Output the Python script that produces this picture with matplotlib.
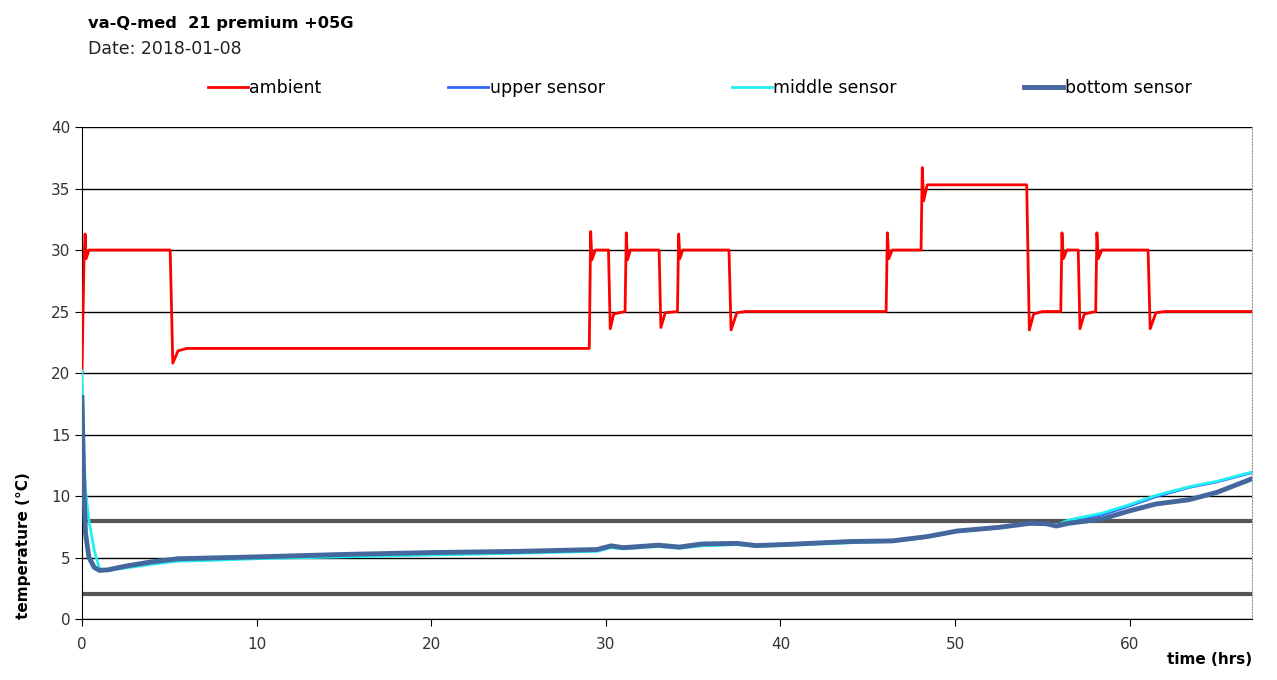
import matplotlib
matplotlib.use("Agg")
import matplotlib.pyplot as plt

# ambient temperature (breakpoints)
amb_t = [0, 0.12, 0.18, 0.24, 0.4, 5.05, 5.2, 5.5, 6, 29.05, 29.13, 29.2, 29.4,
         30.15, 30.25, 30.45, 31.1, 31.17, 31.24, 31.4, 33.05, 33.15, 33.4, 34.1,
         34.17, 34.24, 34.4, 37.05, 37.17, 37.5, 38, 46.05, 46.12, 46.2, 46.4,
         48.05, 48.12, 48.2, 48.4, 54.1, 54.25, 54.5, 55, 56.05, 56.12, 56.2, 56.4,
         57.05, 57.15, 57.4, 58.05, 58.12, 58.2, 58.4, 61.05, 61.17, 61.5, 62, 67]
amb_v = [20, 29.5, 31.3, 29.3, 30, 30, 20.8, 21.8, 22, 22, 31.5, 29.2, 30,
         30, 23.6, 24.8, 25, 31.4, 29.2, 30, 30, 23.7, 24.9, 25,
         31.3, 29.3, 30, 30, 23.5, 24.9, 25, 25, 31.4, 29.3, 30,
         30, 36.7, 34.0, 35.3, 35.3, 23.5, 24.8, 25, 25, 31.4, 29.3, 30,
         30, 23.6, 24.8, 25, 31.4, 29.3, 30, 30, 23.6, 24.9, 25, 25]

sens_t = [0, 0.1, 0.2, 0.4, 0.7, 1.0, 1.5, 2.5, 4, 5.5, 7, 10, 15, 20, 25, 28,
          29.5, 30.3, 31, 33, 34.2, 35.5, 37.5, 38.6, 40.5, 44, 46.4, 48.4, 50.1,
          52.5, 54.3, 55.2, 55.8, 56.5, 58.4, 60, 61.5, 63.4, 65, 67]
upper_v = [18.5, 11.5, 7.2, 5.0, 4.2, 3.95, 4.0, 4.3, 4.65, 4.9, 4.95, 5.05, 5.25,
           5.4, 5.5, 5.6, 5.65, 5.95, 5.8, 6.0, 5.85, 6.1, 6.15, 5.97, 6.07, 6.3,
           6.35, 6.7, 7.15, 7.45, 7.78, 7.75, 7.56, 7.9, 8.45, 9.2, 9.95, 10.7, 11.15, 11.9]
middle_v = [20.2, 14, 10.5, 8.0, 5.6, 4.1, 3.95, 4.15, 4.45, 4.7, 4.75, 4.9, 5.05,
            5.2, 5.35, 5.45, 5.5, 5.8, 5.7, 5.9, 5.75, 5.95, 6.05, 5.9, 6.0, 6.2,
            6.3, 6.65, 7.1, 7.4, 7.75, 7.7, 7.6, 8.05, 8.6, 9.3, 10.05, 10.75, 11.2, 11.95]
bottom_v = [18, 11, 7, 5.0, 4.2, 3.95, 4.0, 4.3, 4.65, 4.9, 4.95, 5.05, 5.25,
            5.4, 5.5, 5.6, 5.65, 5.95, 5.8, 6.0, 5.85, 6.1, 6.15, 5.97, 6.07, 6.3,
            6.35, 6.7, 7.15, 7.45, 7.78, 7.75, 7.56, 7.78, 8.13, 8.8, 9.35, 9.7, 10.3, 11.4]

limits = [8, 2]

plt.rcParams['font.family'] = ['DejaVu Sans']
fig = plt.figure(figsize=(12.77, 6.8), dpi=100)
ax = fig.add_axes([0.0642, 0.0897, 0.9162, 0.7235])

for v in limits:
    ax.axhline(v, color='#555555', lw=3, zorder=2)

ax.plot(amb_t, amb_v, color='#ff0000', lw=2, label='ambient', zorder=3)
ax.plot(sens_t, upper_v, color='#3366ff', lw=2, label='upper sensor', zorder=3)
ax.plot(sens_t, middle_v, color='#22f0f0', lw=2, label='middle sensor', zorder=4)
ax.plot(sens_t, bottom_v, color='#44679e', lw=3.5, label='bottom sensor', zorder=5)

ax.set_xlim(0, 67)
ax.set_ylim(0, 40)
ax.set_xticks(range(0, 61, 10))
ax.set_yticks(range(0, 41, 5))
ax.yaxis.grid(True, color='black', lw=1)
ax.set_axisbelow(True)
ax.tick_params(colors='black', labelcolor='#333333', labelsize=11, direction='out', length=5)
ax.tick_params(axis='x', pad=8)
ax.spines['top'].set_visible(False)
ax.spines['right'].set_linestyle(':')
ax.spines['right'].set_color('#999999')

ax.set_xlabel('time (hrs)', fontweight='bold', fontsize=11, loc='right', labelpad=0)
ax.set_ylabel('temperature (°C)', fontweight='bold', fontsize=11, loc='bottom', labelpad=14)

fig.text(0.069, 0.965, 'va-Q-med  21 premium +05G', fontweight='bold', fontsize=11.7, va='center')
fig.text(0.069, 0.928, 'Date: 2018-01-08', fontsize=12.5, va='center', color='#222222')

fig.legend(loc='center', bbox_to_anchor=(0.548, 0.87), ncol=4, frameon=False,
           fontsize=12.5, handlelength=2.3, handletextpad=0.1, columnspacing=7.3)

fig.savefig('out.png', dpi=100)
